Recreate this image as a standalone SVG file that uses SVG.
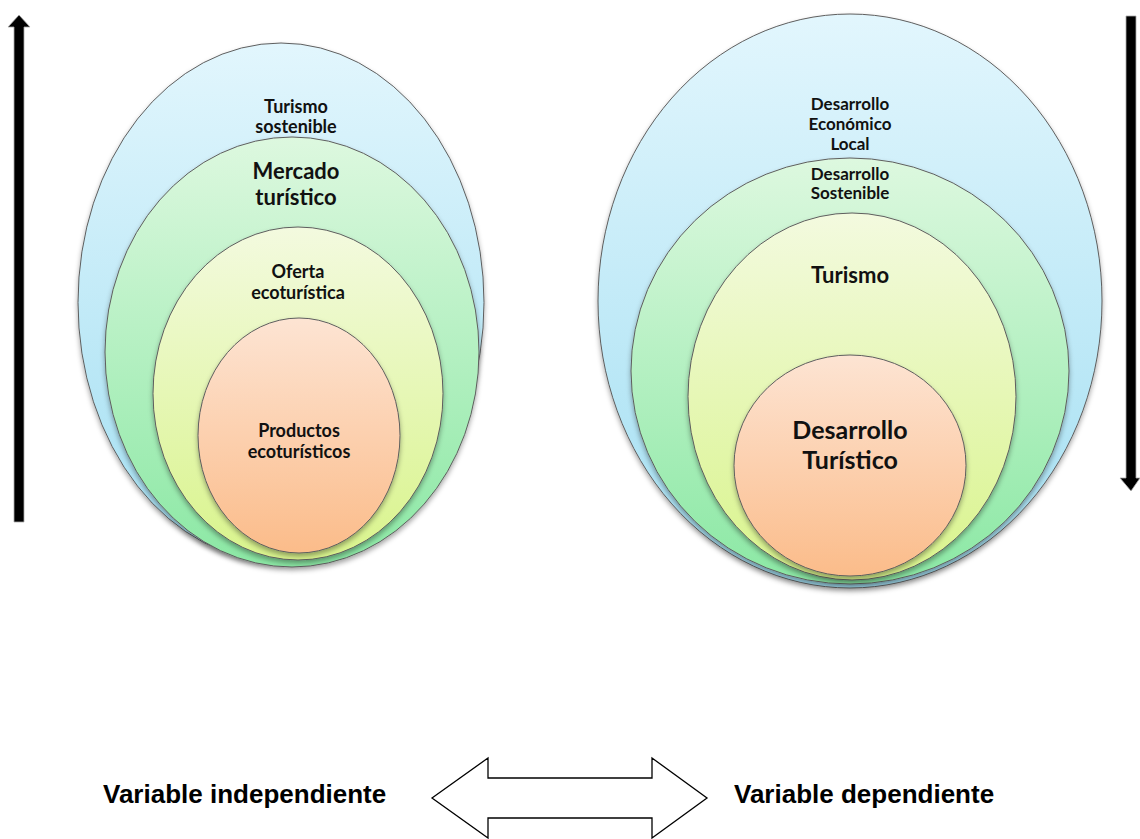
<svg xmlns="http://www.w3.org/2000/svg" width="1140" height="839" viewBox="0 0 1140 839">
<defs>
<linearGradient id="gBlue" x1="0" y1="0" x2="0" y2="1"><stop offset="0" stop-color="#e2f6fd"/><stop offset="1" stop-color="#a3dff2"/></linearGradient>
<linearGradient id="gGreen" x1="0" y1="0" x2="0" y2="1"><stop offset="0" stop-color="#ddf8df"/><stop offset="1" stop-color="#8be8a4"/></linearGradient>
<linearGradient id="gYellow" x1="0" y1="0" x2="0" y2="1"><stop offset="0" stop-color="#f3fadf"/><stop offset="1" stop-color="#d9f48c"/></linearGradient>
<linearGradient id="gOrange" x1="0" y1="0" x2="0" y2="1"><stop offset="0" stop-color="#fde4d3"/><stop offset="1" stop-color="#fbbc8a"/></linearGradient>
<filter id="sh" x="-10%" y="-10%" width="120%" height="125%"><feDropShadow dx="0" dy="3" stdDeviation="2.5" flood-color="#000" flood-opacity="0.35"/></filter>
</defs>
<style>
.ell{stroke:#5e5e5e;stroke-width:1;filter:url(#sh)}
.lbl{font-family:Lato,"Open Sans","Liberation Sans",sans-serif;font-weight:bold;fill:#111;text-anchor:middle}
.s{font-size:18px}
.r{font-size:17px}
.m{font-size:22px}
.t{font-size:22px}
.l{font-size:25px}
.var{font-family:"Liberation Sans",Arial,sans-serif;font-weight:bold;font-size:26px;fill:#000}
.arr{fill:#000;stroke:#aaa;stroke-width:0.8}
</style>
<rect width="1140" height="839" fill="#fff"/>

<g id="left-turismo-sostenible">
<ellipse class="ell" cx="281" cy="302.5" rx="203" ry="259.5" fill="url(#gBlue)"/>
<text class="lbl s" x="296" y="113">Turismo</text>
<text class="lbl s" x="296" y="133">sostenible</text>
</g>
<g id="left-mercado-turistico">
<ellipse class="ell" cx="292" cy="352" rx="187" ry="215" fill="url(#gGreen)"/>
<text class="lbl m" x="296" y="179">Mercado</text>
<text class="lbl m" x="296" y="205">turístico</text>
</g>
<g id="left-oferta-ecoturistica">
<ellipse class="ell" cx="298" cy="393.5" rx="145" ry="166.5" fill="url(#gYellow)"/>
<text class="lbl s" x="298" y="278">Oferta</text>
<text class="lbl s" x="298" y="299">ecoturística</text>
</g>
<g id="left-productos-ecoturisticos">
<ellipse class="ell" cx="299" cy="435.5" rx="101" ry="117.5" fill="url(#gOrange)"/>
<text class="lbl s" x="299" y="437">Productos</text>
<text class="lbl s" x="299" y="458">ecoturísticos</text>
</g>

<g id="right-desarrollo-economico-local">
<ellipse class="ell" cx="850" cy="301" rx="252" ry="287" fill="url(#gBlue)"/>
<text class="lbl r" x="850" y="110">Desarrollo</text>
<text class="lbl r" x="850" y="130">Económico</text>
<text class="lbl r" x="850" y="150">Local</text>
</g>
<g id="right-desarrollo-sostenible">
<ellipse class="ell" cx="850" cy="371" rx="219" ry="213" fill="url(#gGreen)"/>
<text class="lbl r" x="850" y="180">Desarrollo</text>
<text class="lbl r" x="850" y="199">Sostenible</text>
</g>
<g id="right-turismo">
<ellipse class="ell" cx="852" cy="396.5" rx="164" ry="183.5" fill="url(#gYellow)"/>
<text class="lbl t" x="850" y="283">Turismo</text>
</g>
<g id="right-desarrollo-turistico">
<ellipse class="ell" cx="850" cy="465.5" rx="116" ry="110.5" fill="url(#gOrange)"/>
<text class="lbl l" x="850" y="439">Desarrollo</text>
<text class="lbl l" x="850" y="469">Turístico</text>
</g>

<g id="connectors">
<polygon class="arr" points="14,522 14,27 8,27 19,15 30,27 24,27 24,522"/>
<polygon class="arr" points="1126,16 1136,16 1136,478 1140,478 1131,491 1120,478 1126,478"/>
<polygon points="432,798 488,758 488,778 652,778 652,758 707,798 652,838 652,818 488,818 488,838" fill="#fff" stroke="#000" stroke-width="1.3"/>
</g>

<g id="labels">
<text class="var" x="103" y="803">Variable independiente</text>
<text class="var" x="734" y="803">Variable dependiente</text>
</g>
</svg>
